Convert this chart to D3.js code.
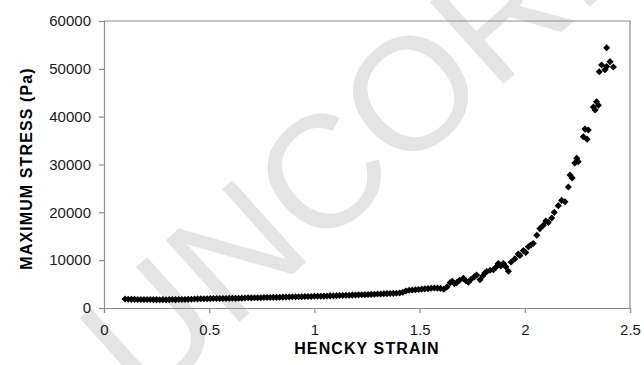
<!DOCTYPE html>
<html>
<head>
<meta charset="utf-8">
<script src="https://cdn.jsdelivr.net/npm/d3@7"></script>
<style>
  html, body { margin: 0; padding: 0; background: #fff; }
  svg { display: block; }
</style>
</head>
<body>
<svg id="chart" width="644" height="365"></svg>
<script>
// Hencky strain (x) and maximum stress in Pa (y)
const strain = [
  0.100, 0.115, 0.130, 0.145, 0.160, 0.175, 0.190, 0.205, 0.220, 0.235,
  0.250, 0.265, 0.280, 0.295, 0.310, 0.325, 0.340, 0.355, 0.370, 0.385,
  0.400, 0.415, 0.430, 0.445, 0.460, 0.475, 0.490, 0.505, 0.520, 0.535,
  0.550, 0.565, 0.580, 0.595, 0.610, 0.625, 0.640, 0.655, 0.670, 0.685,
  0.700, 0.715, 0.730, 0.745, 0.760, 0.775, 0.790, 0.805, 0.820, 0.835,
  0.850, 0.865, 0.880, 0.895, 0.910, 0.925, 0.940, 0.955, 0.970, 0.985,
  1.000, 1.015, 1.030, 1.045, 1.060, 1.075, 1.090, 1.105, 1.120, 1.135,
  1.150, 1.165, 1.180, 1.195, 1.210, 1.225, 1.240, 1.255, 1.270, 1.285,
  1.300, 1.315, 1.330, 1.345, 1.360, 1.375, 1.390, 1.405, 1.420, 1.435,
  1.450, 1.465, 1.480, 1.495, 1.510, 1.525, 1.540, 1.555, 1.570, 1.585,
  1.600, 1.615,
  1.630, 1.645, 1.655, 1.665, 1.676, 1.690, 1.708, 1.720, 1.732, 1.745,
  1.760, 1.771, 1.787, 1.800, 1.810, 1.819, 1.835, 1.851, 1.862, 1.874,
  1.886, 1.898, 1.910, 1.922, 1.935, 1.953, 1.969, 1.977, 1.993, 2.005,
  2.017, 2.030, 2.040, 2.057, 2.072, 2.088, 2.100, 2.112, 2.128, 2.140,
  2.159, 2.175, 2.191, 2.207, 2.215, 2.225, 2.238, 2.247, 2.254, 2.278,
  2.286, 2.302, 2.296, 2.326, 2.334, 2.341, 2.350, 2.354, 2.365, 2.381,
  2.389, 2.405, 2.421, 2.389
];
const stress = [
  1880, 1840, 1810, 1800, 1790, 1780, 1770, 1760, 1760, 1750,
  1750, 1740, 1750, 1740, 1750, 1760, 1750, 1770, 1780, 1790,
  1810, 1830, 1870, 1900, 1920, 1950, 1940, 1960, 1980, 1970,
  1990, 2000, 1990, 2010, 2030, 2020, 2040, 2060, 2080, 2150,
  2120, 2140, 2160, 2150, 2180, 2200, 2210, 2230, 2220, 2250,
  2270, 2290, 2300, 2360, 2330, 2350, 2370, 2390, 2400, 2420,
  2440, 2450, 2470, 2490, 2510, 2530, 2560, 2580, 2600, 2630,
  2650, 2680, 2700, 2720, 2750, 2770, 2800, 2830, 2850, 2880,
  2910, 2940, 2970, 3000, 3030, 3060, 3100, 3150, 3300, 3550,
  3700, 3760, 3820, 3880, 3940, 3990, 4050, 4120, 4180, 4150,
  4100, 3950,
  4400, 5300, 5600, 5100, 5300, 5800, 6200, 5700, 5400, 6000,
  6500, 6900, 5900, 6700, 7300, 7600, 7900, 8000, 8500, 9300,
  8800, 9300, 8600, 7700, 9600, 10300, 11300, 11000, 12000, 11600,
  12800, 13200, 13500, 15200, 16600, 17300, 18200, 17900, 18800, 20000,
  21400, 22500, 22200, 25300, 27800, 27200, 30300, 31300, 30600, 35800,
  37400, 37200, 35300, 42000, 41400, 43100, 42400, 49400, 50800, 49800,
  50500, 51500, 50400, 54400
];

const xTicks = [0, 0.5, 1, 1.5, 2, 2.5];
const yTicks = [0, 10000, 20000, 30000, 40000, 50000, 60000];
const xTitle = "HENCKY STRAIN";
const yTitle = "MAXIMUM STRESS (Pa)";
const watermark = "UNCORRECTED PROOF";

const svg = d3.select("#chart");
const plot = { left: 104, right: 630, top: 21, bottom: 308 };
const axisColor = "#8c8c8c";
const font = "'Liberation Sans', Arial, sans-serif";

// Diagonal watermark sits behind everything
svg.append("text")
  .attr("transform", "translate(144,408) rotate(-42)")
  .attr("font-family", font)
  .attr("font-size", 160)
  .attr("fill", "#e4e4e4")
  .text(watermark);

const x = d3.scaleLinear().domain([0, 2.5]).range([plot.left, plot.right]);
const y = d3.scaleLinear().domain([0, 60000]).range([plot.bottom, plot.top]);

// Frame: top and right edges
svg.append("path")
  .attr("d", `M${plot.left},${plot.top}H${plot.right}V${plot.bottom}`)
  .attr("fill", "none")
  .attr("stroke", axisColor)
  .attr("stroke-width", 1.2);

const xAxis = svg.append("g")
  .attr("transform", `translate(0,${plot.bottom})`)
  .call(d3.axisBottom(x).tickValues(xTicks).tickSize(5).tickPadding(11)
    .tickFormat(d => String(d)));
const yAxis = svg.append("g")
  .attr("transform", `translate(${plot.left},0)`)
  .call(d3.axisLeft(y).tickValues(yTicks).tickSize(5).tickPadding(8)
    .tickFormat(d => String(d)));

[xAxis, yAxis].forEach(g => {
  g.select(".domain").attr("stroke", axisColor).attr("stroke-width", 1.2);
  g.selectAll(".tick line").attr("stroke", axisColor).attr("stroke-width", 1.2);
  g.selectAll(".tick text")
    .attr("font-family", font)
    .attr("font-size", 15)
    .attr("fill", "#1a1a1a");
});

// Data markers: filled diamonds
const points = strain.map((s, i) => [s, stress[i]]);
const diamond = d3.symbol().type(d3.symbolDiamond2).size(32);
svg.append("g")
  .selectAll("path")
  .data(points)
  .join("path")
  .attr("transform", d => `translate(${x(d[0])},${y(d[1])})`)
  .attr("d", diamond)
  .attr("fill", "#000");

// Axis titles
svg.append("text")
  .attr("x", (plot.left + plot.right) / 2)
  .attr("y", 354)
  .attr("text-anchor", "middle")
  .attr("font-family", font)
  .attr("font-weight", "bold")
  .attr("font-size", 16)
  .attr("letter-spacing", 1.1)
  .attr("fill", "#000")
  .text(xTitle);

svg.append("text")
  .attr("transform", `translate(32,${(plot.top + plot.bottom) / 2 + 4}) rotate(-90)`)
  .attr("text-anchor", "middle")
  .attr("font-family", font)
  .attr("font-weight", "bold")
  .attr("font-size", 16)
  .attr("letter-spacing", 1.1)
  .attr("fill", "#000")
  .text(yTitle);
</script>
</body>
</html>
